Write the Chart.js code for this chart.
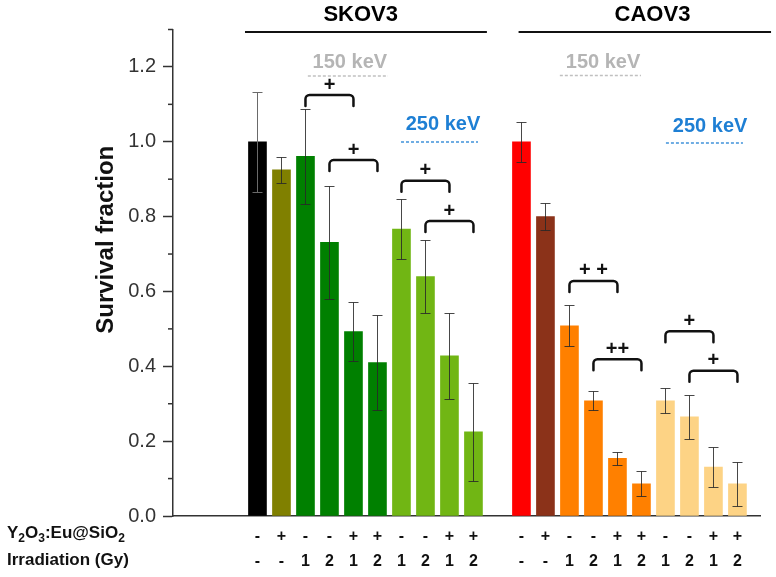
<!DOCTYPE html>
<html>
<head>
<meta charset="utf-8">
<script src="https://cdn.jsdelivr.net/npm/chart.js@4.4.1/dist/chart.umd.min.js"></script>
<style>
  html, body { margin: 0; padding: 0; background: #ffffff; }
  #wrap { position: relative; width: 776px; height: 577px; }
</style>
</head>
<body>
<div id="wrap"><canvas id="c"></canvas></div>
<script>
// ---------------- data ----------------
const cellLines = ['SKOV3', 'CAOV3'];
const nanoparticle = ['-', '+', '-', '-', '+', '+', '-', '-', '+', '+'];
const irradiationGy = ['-', '-', '1', '2', '1', '2', '1', '2', '1', '2'];
const energyLabels = ['150 keV', '250 keV'];

const skov3Values = [1.00, 0.925, 0.961, 0.731, 0.493, 0.410, 0.767, 0.640, 0.428, 0.225];
const skov3Errors = [0.134, 0.035, 0.126, 0.150, 0.080, 0.128, 0.080, 0.098, 0.115, 0.131];
const caov3Values = [1.00, 0.800, 0.508, 0.308, 0.154, 0.086, 0.308, 0.265, 0.131, 0.086];
const caov3Errors = [0.053, 0.036, 0.055, 0.025, 0.018, 0.033, 0.033, 0.058, 0.053, 0.058];

const skov3Colors = ['#000000', '#808000', '#008000', '#008000', '#008000', '#008000', '#71b614', '#71b614', '#71b614', '#71b614'];
const caov3Colors = ['#ff0000', '#8b3219', '#ff8000', '#ff8000', '#ff8000', '#ff8000', '#fdd385', '#fdd385', '#fdd385', '#fdd385'];

const yTickValues = [0, 0.2, 0.4, 0.6, 0.8, 1.0, 1.2];

// statistical comparison brackets: dataset, from bar, to bar, bracket height (survival units), mark
const comparisons = [
  { set: 0, from: 2, to: 4, level: 1.125, mark: '+' },
  { set: 0, from: 3, to: 5, level: 0.951, mark: '+' },
  { set: 0, from: 6, to: 8, level: 0.896, mark: '+' },
  { set: 0, from: 7, to: 9, level: 0.788, mark: '+' },
  { set: 1, from: 2, to: 4, level: 0.628, mark: '+ +' },
  { set: 1, from: 3, to: 5, level: 0.419, mark: '++' },
  { set: 1, from: 6, to: 8, level: 0.494, mark: '+' },
  { set: 1, from: 7, to: 9, level: 0.388, mark: '+' }
];

// x positions (category slots) of the two groups
const groupStart = [0, 11];

const FONT = '"Liberation Sans", Arial, sans-serif';

function toPoints(values, start) {
  return values.map((v, i) => ({ x: start + i, y: v }));
}

const tickLabelMap = {};
groupStart.forEach(s => {
  nanoparticle.forEach((n, i) => { tickLabelMap[s + i] = [n, irradiationGy[i]]; });
});

const errorSets = [skov3Errors, caov3Errors];
const valueSets = [skov3Values, caov3Values];

const decorPlugin = {
  id: 'decor',
  afterDatasetsDraw(chart) {
    const ctx = chart.ctx;
    const y = chart.scales.y;
    ctx.save();
    ctx.lineWidth = 1;
    chart.data.datasets.forEach((ds, di) => {
      const meta = chart.getDatasetMeta(di);
      meta.data.forEach((el, i) => {
        const v = valueSets[di][i], e = errorSets[di][i];
        const yt = Math.round(y.getPixelForValue(v + e)) + 0.5;
        const yb = Math.round(y.getPixelForValue(v - e)) + 0.5;
        const x = Math.round(el.x) + 0.5;
        ctx.strokeStyle = (di === 0 && i === 0) ? '#6a6a6a' : 'rgba(40,40,40,0.85)';
        ctx.beginPath();
        ctx.moveTo(x, yt); ctx.lineTo(x, yb);
        ctx.moveTo(x - 5, yt); ctx.lineTo(x + 5, yt);
        ctx.moveTo(x - 5, yb); ctx.lineTo(x + 5, yb);
        ctx.stroke();
      });
    });
    ctx.restore();
  },
  afterDraw(chart) {
    const ctx = chart.ctx;
    const xs = chart.scales.x, y = chart.scales.y;
    const area = chart.chartArea;
    ctx.save();
    // minor y ticks
    ctx.strokeStyle = '#333';
    ctx.lineWidth = 1.5;
    y.ticks.forEach(t => {
      if (!yTickValues.some(v => Math.abs(v - t.value) < 1e-6)) {
        const py = y.getPixelForValue(t.value);
        ctx.beginPath();
        ctx.moveTo(area.left - 5, py); ctx.lineTo(area.left, py);
        ctx.stroke();
      }
    });

    // group headers
    ctx.fillStyle = '#000';
    ctx.textAlign = 'center';
    ctx.textBaseline = 'middle';
    ctx.font = 'bold 22px ' + FONT;
    const headers = [
      { text: cellLines[0], cx: xs.getPixelForValue(4.3), l: xs.getPixelForValue(-0.52), r: xs.getPixelForValue(9.56) },
      { text: cellLines[1], cx: xs.getPixelForValue(16.46), l: xs.getPixelForValue(10.88), r: xs.getPixelForValue(21.4) }
    ];
    headers.forEach(h => {
      ctx.fillText(h.text, h.cx, 15);
      ctx.strokeStyle = '#111';
      ctx.lineWidth = 2;
      ctx.beginPath();
      ctx.moveTo(h.l, 32); ctx.lineTo(h.r, 32);
      ctx.stroke();
    });

    // energy labels with dashed underline
    ctx.font = 'bold 20px ' + FONT;
    const energies = [
      { text: energyLabels[0], color: '#b5b5b5', cx: xs.getPixelForValue(3.85), cy: 62, l: xs.getPixelForValue(2.1), r: xs.getPixelForValue(5.44), ly: 76 },
      { text: energyLabels[1], color: '#1e7fd4', cx: xs.getPixelForValue(7.73), cy: 124, l: xs.getPixelForValue(5.98), r: xs.getPixelForValue(9.19), ly: 142 },
      { text: energyLabels[0], color: '#b5b5b5', cx: xs.getPixelForValue(14.4), cy: 62, l: xs.getPixelForValue(12.6), r: xs.getPixelForValue(15.98), ly: 75.5 },
      { text: energyLabels[1], color: '#1e7fd4', cx: xs.getPixelForValue(18.86), cy: 126, l: xs.getPixelForValue(17.02), r: xs.getPixelForValue(20.23), ly: 143 }
    ];
    energies.forEach(e => {
      ctx.fillStyle = e.color;
      ctx.fillText(e.text, e.cx, e.cy);
      ctx.strokeStyle = e.color;
      ctx.globalAlpha = 0.85;
      ctx.lineWidth = 1.5;
      ctx.setLineDash([3, 2]);
      ctx.beginPath();
      ctx.moveTo(e.l, e.ly); ctx.lineTo(e.r, e.ly);
      ctx.stroke();
      ctx.setLineDash([]);
      ctx.globalAlpha = 1;
    });

    // comparison brackets
    ctx.strokeStyle = '#111';
    ctx.fillStyle = '#111';
    ctx.lineWidth = 2.5;
    ctx.lineJoin = 'round';
    ctx.lineCap = 'round';
    ctx.font = 'bold 20px ' + FONT;
    comparisons.forEach(c => {
      const meta = chart.getDatasetMeta(c.set);
      const x1 = meta.data[c.from].x, x2 = meta.data[c.to].x;
      const top = y.getPixelForValue(c.level);
      const depth = 11, r = 4;
      ctx.beginPath();
      ctx.moveTo(x1, top + depth);
      ctx.arcTo(x1, top, x1 + r, top, r);
      ctx.arcTo(x2, top, x2, top + r, r);
      ctx.lineTo(x2, top + depth);
      ctx.stroke();
      ctx.fillText(c.mark, (x1 + x2) / 2, top - 10);
    });

    // row headers at bottom left
    ctx.fillStyle = '#111';
    ctx.textAlign = 'left';
    ctx.textBaseline = 'alphabetic';
    const big = 'bold 17px ' + FONT, small = 'bold 12px ' + FONT;
    const parts = [['Y', 0], ['2', 1], ['O', 0], ['3', 1], [':Eu@SiO', 0], ['2', 1]];
    let px = 7;
    const base = 538;
    parts.forEach(([t, sub]) => {
      ctx.font = sub ? small : big;
      ctx.fillText(t, px, sub ? base + 4 : base);
      px += ctx.measureText(t).width;
    });
    ctx.font = big;
    ctx.fillText('Irradiation (Gy)', 7, 565);
    ctx.restore();
  }
};

const chart = new Chart(document.getElementById('c'), {
  type: 'bar',
  data: {
    datasets: [
      { label: cellLines[0], data: toPoints(skov3Values, groupStart[0]), backgroundColor: skov3Colors, borderWidth: 0, barThickness: 18, grouped: false },
      { label: cellLines[1], data: toPoints(caov3Values, groupStart[1]), backgroundColor: caov3Colors, borderWidth: 0, barThickness: 18, grouped: false }
    ]
  },
  options: {
    responsive: true,
    maintainAspectRatio: false,
    animation: false,
    layout: { padding: { top: 29.5, right: 16, left: 0, bottom: 0 } },
    plugins: { legend: { display: false }, tooltip: { enabled: false }, title: { display: false } },
    scales: {
      x: {
        type: 'linear',
        min: -3.52,
        max: 20.94,
        offset: false,
        bounds: 'data',
        grid: { display: false, drawTicks: false, offset: false },
        border: { display: true, color: '#333', width: 1.5 },
        afterBuildTicks: (scale) => {
          scale.ticks = Object.keys(tickLabelMap).map(k => ({ value: Number(k) }));
        },
        afterFit: (scale) => { scale.height = 61; scale.paddingLeft = 0; scale.paddingRight = 0; },
        ticks: {
          autoSkip: false,
          maxRotation: 0,
          minRotation: 0,
          padding: 8,
          color: '#111',
          font: { family: FONT, size: 16, weight: 'bold', lineHeight: 1.5625 },
          callback: (value) => tickLabelMap[value] || ''
        }
      },
      y: {
        min: 0,
        max: 1.3,
        afterBuildTicks: (scale) => {
          const t = [];
          for (let i = 0; i <= 13; i++) t.push({ value: i / 10 });
          scale.ticks = t;
        },
        afterFit: (scale) => { scale.width = 173; },
        grid: {
          drawOnChartArea: false,
          drawTicks: true,
          tickLength: 10,
          tickWidth: 1.5,
          tickColor: (ctx) => (ctx.tick && yTickValues.some(v => Math.abs(v - ctx.tick.value) < 1e-6)) ? '#333' : 'rgba(0,0,0,0)'
        },
        border: { display: true, color: '#333', width: 1.5 },
        title: { display: false },
        ticks: {
          padding: 7,
          color: '#333',
          font: { family: FONT, size: 20 },
          callback: (value) => yTickValues.some(v => Math.abs(v - value) < 1e-6) ? value.toFixed(1) : ''
        }
      }
    }
  },
  plugins: [decorPlugin, {
    id: 'ytitle',
    afterDraw(chart) {
      const ctx = chart.ctx;
      const y = chart.scales.y;
      ctx.save();
      ctx.translate(106, (y.top + y.bottom) / 2 - 33);
      ctx.rotate(-Math.PI / 2);
      ctx.font = 'bold 24px ' + FONT;
      ctx.fillStyle = '#111';
      ctx.textAlign = 'center';
      ctx.textBaseline = 'middle';
      ctx.fillText('Survival fraction', 0, 0);
      ctx.restore();
    }
  }]
});
</script>
</body>
</html>
